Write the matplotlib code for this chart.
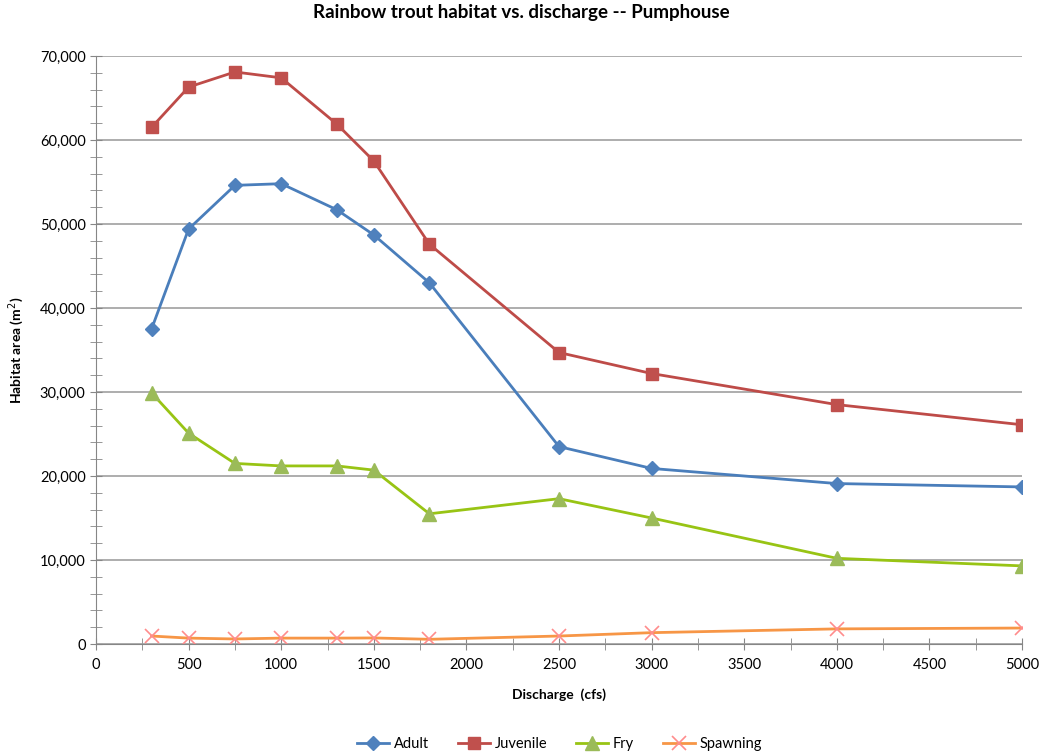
import numpy as np
import matplotlib
matplotlib.use("Agg")
import matplotlib.pyplot as plt
from matplotlib.ticker import FuncFormatter, MultipleLocator

plt.rcParams['font.family'] = ['Lato', 'DejaVu Sans']

# Dados
discharge = [300, 500, 750, 1000, 1300, 1500, 1800, 2500, 3000, 4000, 5000]
adult = [37500, 49400, 54600, 54800, 51700, 48700, 43000, 23500, 20900, 19100, 18700]
juvenile = [61500, 66300, 68100, 67400, 61900, 57500, 47600, 34700, 32200, 28500, 26100]
fry = [29900, 25100, 21500, 21200, 21200, 20700, 15500, 17300, 15000, 10200, 9300]
spawning = [950, 700, 600, 700, 700, 720, 560, 950, 1350, 1800, 1900]

fig = plt.figure(figsize=(10.42, 7.55), dpi=100)
ax = fig.add_axes([96/1042, 1 - 644/755, (1022-96)/1042, (644-56)/755])

ax.plot(discharge, adult, color='#4A7EBB', lw=2, marker='D', ms=7,
        mfc='#4F81BD', mec='#4F81BD', label='Adult')
ax.plot(discharge, juvenile, color='#BE4B48', lw=2, marker='s', ms=9,
        mfc='#C0504D', mec='#C0504D', label='Juvenile')
ax.plot(discharge, fry, color='#98C414', lw=2, marker='^', ms=10,
        mfc='#9BBB59', mec='#9BBB59', label='Fry')
ax.plot(discharge, spawning, color='#F79646', lw=2, marker='x', ms=10,
        mew=1.2, mec='#FF8C8C', label='Spawning')

ax.set_xlim(0, 5000)
ax.set_ylim(0, 70000)
ax.xaxis.set_major_locator(MultipleLocator(500))
ax.xaxis.set_minor_locator(MultipleLocator(250))
ax.yaxis.set_major_locator(MultipleLocator(10000))
ax.yaxis.set_minor_locator(MultipleLocator(2000))
ax.yaxis.set_major_formatter(FuncFormatter(lambda v, p: f"{int(v):,}"))

ax.grid(axis='y', which='major', color='#A0A0A0', lw=1.2)
ax.set_axisbelow(True)
for s in ['top', 'right']:
    ax.spines[s].set_visible(False)
for s in ['left', 'bottom']:
    ax.spines[s].set_color('#868686')
ax.tick_params(which='both', direction='inout', color='#868686', labelsize=10.5)
ax.tick_params(which='major', length=8)
ax.tick_params(which='minor', length=8)
ax.tick_params(axis='x', pad=6)

ax.set_xlabel('Discharge  (cfs)', fontsize=10, fontweight='bold', labelpad=12)
ax.set_ylabel('Habitat area (m$^2$)', fontsize=10, fontweight='bold', labelpad=10)
fig.suptitle('Rainbow trout habitat vs. discharge -- Pumphouse', fontsize=13.5,
             fontweight='bold', y=0.995)

fig.legend(loc='lower center', ncol=4, frameon=False, fontsize=10.5,
           bbox_to_anchor=(0.537, -0.012), columnspacing=2.0, handlelength=2.2,
           handletextpad=0.3)

fig.savefig('out.png', dpi=100)
